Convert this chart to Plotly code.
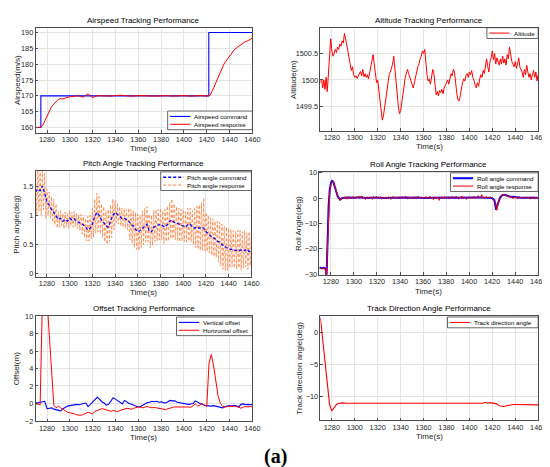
import numpy as np
import plotly.graph_objects as go

W, H = 550, 467

# ---------------- data ----------------
t_1s = np.arange(1270, 1461, 1)
t_2s = np.arange(1270, 1461, 2)
x_ticks = [1280, 1300, 1320, 1340, 1360, 1380, 1400, 1420, 1440, 1460]
alt_ticks = [1499.5, 1500, 1500.5]
alt_tick_text = ["1499.5", "1500", "1500.5"]

airspeed_cmd_t = [1270, 1274.6, 1274.6, 1421.8, 1421.8, 1460]
airspeed_cmd = [160, 160, 170, 170, 190, 190]
airspeed_resp_t = [1270, 1274, 1276, 1278, 1280, 1282, 1284, 1286, 1288, 1290,
                   1292, 1294, 1296, 1298, 1300, 1303, 1306, 1309, 1312, 1314,
                   1316, 1318, 1320, 1322, 1325, 1330, 1335, 1340, 1345, 1350,
                   1355, 1360, 1365, 1370, 1375, 1380, 1385, 1390, 1395, 1400,
                   1405, 1410, 1415, 1420, 1423, 1426, 1429, 1432, 1435, 1438,
                   1441, 1444, 1447, 1450, 1453, 1456, 1460]
airspeed_resp = [160, 160.1, 160.5, 162.0, 164.0, 165.5, 166.6, 167.4, 168.2, 168.9,
                 169.1, 169.0, 169.3, 169.6, 169.7, 169.8, 170.0, 169.9, 169.6, 170.2,
                 170.6, 170.0, 169.4, 169.8, 170.1, 170.0, 169.9, 170.1, 170.2, 170.0,
                 169.9, 170.1, 170.0, 170.1, 169.9, 170.0, 170.1, 169.9, 170.0, 170.1,
                 169.9, 170.0, 170.1, 169.9, 170.2, 172.5, 175.0, 177.6, 180.0, 181.5,
                 183.0, 184.5, 185.4, 186.2, 186.9, 187.4, 188.2]

altitude = [1499.95, 1500.02, 1499.85, 1500.0, 1499.82, 1500.05, 1499.78, 1500.1, 1500.45, 1500.78,
            1500.55, 1500.45, 1500.5, 1500.58, 1500.52, 1500.62, 1500.58, 1500.68, 1500.64, 1500.74,
            1500.7, 1500.88, 1500.78, 1500.62, 1500.55, 1500.42, 1500.3, 1500.18, 1500.25, 1500.1,
            1500.05, 1500.08, 1500.03, 1500.08, 1500.1, 1500.16, 1500.08, 1500.2, 1500.06, 1500.12,
            1500.05, 1500.1, 1500.02, 1500.12, 1500.22, 1500.35, 1500.48, 1500.3, 1500.12, 1499.95,
            1500.0, 1499.8, 1499.55, 1499.42, 1499.24, 1499.32, 1499.48, 1499.62, 1499.8, 1499.95,
            1500.1, 1500.15, 1500.22, 1500.3, 1500.45, 1500.25, 1500.05, 1499.75, 1499.5, 1499.36,
            1499.42, 1499.55, 1499.7, 1499.88, 1500.05, 1500.15, 1500.2, 1500.12, 1500.05, 1499.98,
            1499.92, 1499.85, 1499.95, 1500.08, 1500.15, 1500.25, 1500.3, 1500.4, 1500.45, 1500.55,
            1500.5, 1500.58, 1500.28, 1500.1, 1499.98, 1500.02, 1499.92, 1500.05, 1500.2, 1500.12,
            1499.85, 1499.72, 1499.78, 1499.7, 1499.8, 1499.76, 1499.82, 1499.74, 1499.85, 1499.9,
            1499.95, 1500.0, 1499.92, 1500.05, 1500.12, 1500.08, 1500.2, 1500.15, 1499.9, 1499.75,
            1499.62, 1499.6, 1499.7, 1499.85, 1499.95, 1500.02, 1499.98, 1500.08, 1500.12, 1500.05,
            1500.15, 1500.1, 1500.18, 1500.05, 1500.0, 1499.9, 1499.85, 1499.95, 1499.88, 1500.02,
            1500.1, 1500.05, 1500.18, 1500.12, 1500.3, 1500.4, 1500.25, 1500.15, 1500.35, 1500.42,
            1500.55, 1500.38, 1500.5, 1500.3, 1500.42, 1500.35, 1500.28, 1500.4, 1500.3, 1500.45,
            1500.32, 1500.4, 1500.28, 1500.48, 1500.4, 1500.62, 1500.45, 1500.35, 1500.3, 1500.25,
            1500.35, 1500.22, 1500.3, 1500.42, 1500.25, 1500.2, 1500.15, 1500.05, 1500.2, 1500.1,
            1500.28, 1500.15, 1500.05, 1500.12, 1500.0, 1500.1, 1500.18, 1500.05, 1500.15, 1499.98, 1500.1]

pitch_cmd = [1.40, 1.45, 1.42, 1.50, 1.38, 1.22, 1.18, 1.10, 1.05, 0.98,
             0.93, 0.95, 0.90, 0.93, 0.90, 0.95, 0.92, 0.94, 0.90, 0.88,
             0.86, 0.84, 0.80, 0.75, 0.78, 0.85, 0.98, 1.05, 1.00, 0.92,
             0.88, 0.82, 0.80, 0.90, 1.00, 1.05, 1.02, 0.98, 0.95, 0.95,
             0.92, 0.90, 0.85, 0.82, 0.76, 0.72, 0.74, 0.78, 0.82, 0.85,
             0.74, 0.72, 0.80, 0.82, 0.84, 0.85, 0.82, 0.80, 0.84, 0.90,
             0.92, 0.88, 0.87, 0.85, 0.84, 0.82, 0.80, 0.84, 0.85, 0.80,
             0.78, 0.80, 0.78, 0.80, 0.78, 0.72, 0.68, 0.65, 0.62, 0.60,
             0.56, 0.54, 0.50, 0.47, 0.45, 0.43, 0.42, 0.42, 0.40, 0.41,
             0.40, 0.42, 0.40, 0.42, 0.38, 0.40]
pitch_resp = [1.80, 1.02, 1.82, 1.08, 1.78, 1.00, 1.85, 1.10, 1.72, 0.95,
              1.45, 1.00, 1.40, 0.96, 1.32, 0.88, 1.28, 0.84, 1.20, 0.78,
              1.06, 0.80, 1.08, 0.82, 1.03, 0.77, 1.06, 0.80, 1.03, 0.78,
              1.08, 0.82, 1.05, 0.80, 1.07, 0.81, 1.03, 0.77, 1.01, 0.75,
              1.02, 0.68, 0.98, 0.62, 0.95, 0.56, 0.98, 0.56, 1.00, 0.60,
              1.12, 0.62, 1.28, 0.70, 1.38, 0.72, 1.32, 0.68, 1.20, 0.62,
              1.15, 0.55, 1.08, 0.50, 1.10, 0.55, 1.18, 0.62, 1.28, 0.75,
              1.25, 0.88, 1.20, 0.85, 1.15, 0.82, 1.12, 0.80, 1.12, 0.78,
              1.10, 0.75, 1.12, 0.58, 1.10, 0.52, 1.08, 0.45, 1.05, 0.42,
              1.02, 0.40, 1.00, 0.45, 1.08, 0.50, 1.12, 0.55, 1.15, 0.55,
              1.02, 0.45, 1.00, 0.48, 1.08, 0.55, 1.10, 0.56, 1.10, 0.58,
              1.12, 0.58, 1.08, 0.52, 1.10, 0.55, 1.16, 0.56, 1.22, 0.60,
              1.28, 0.60, 1.20, 0.58, 1.15, 0.56, 1.12, 0.55, 1.10, 0.56,
              1.10, 0.55, 1.06, 0.54, 1.12, 0.56, 1.12, 0.55, 1.08, 0.50,
              1.12, 0.45, 1.15, 0.42, 1.18, 0.40, 1.22, 0.40, 1.30, 0.40,
              1.05, 0.38, 1.00, 0.36, 0.96, 0.32, 0.94, 0.30, 0.90, 0.28,
              0.90, 0.20, 0.88, 0.14, 0.85, 0.08, 0.82, 0.05, 0.80, 0.06,
              0.78, 0.10, 0.76, 0.12, 0.74, 0.10, 0.72, 0.08, 0.74, 0.10,
              0.75, 0.06, 0.72, 0.10, 0.74, 0.12, 0.70, 0.08, 0.72, 0.14, 0.74]

roll_cmd_t = [1270, 1272, 1274, 1275.5, 1276.2, 1277, 1278, 1279, 1280, 1281,
              1282, 1283, 1284, 1286, 1288, 1290, 1295, 1300, 1305, 1310,
              1315, 1320, 1325, 1330, 1335, 1340, 1345, 1350, 1355, 1360,
              1365, 1370, 1375, 1380, 1385, 1390, 1395, 1400, 1405, 1410,
              1415, 1420, 1422, 1423.5, 1425, 1427, 1429, 1431, 1435, 1440,
              1445, 1450, 1455, 1460]
roll_cmd = [-27.4, -27.7, -27.5, -27.9, -31.0, -16.0, -3.0, 3.5, 6.0, 6.8,
            6.5, 5.0, 3.3, 0.6, -0.6, 0.1, 0.3, 0.2, 0.4, 0.1,
            0.2, 0.3, 0.1, 0.2, 0.3, 0.2, 0.3, 0.2, 0.3, 0.1,
            0.2, 0.2, 0.1, 0.2, 0.3, 0.2, 0.3, 0.2, 0.3, 0.3,
            0.2, 0.1, -0.8, -4.6, -2.2, 0.3, 1.2, 1.3, 0.7, 0.3,
            0.2, 0.2, 0.2, 0.2]
roll_resp = [-27.5, -27.9, -27.4, -28.1, -27.6, -28.3, -31.0, -20.0, -6.0, 2.5,
             5.5, 6.5, 6.8, 5.2, 3.5, 1.8, 0.5, -0.5, -0.8, -0.3,
             0.2, -0.3, 0.5, 0.1, -0.4, 0.6, 0.0, 0.4, -0.2, 0.7,
             0.3, -0.3, 0.5, 0.2, 0.8, -0.2, 0.5, 0.9, 0.1, 0.4,
             -0.6, 0.3, 0.6, -0.1, 0.4, 0.2, -0.5, 0.7, 0.0, 0.3,
             0.5, -0.2, 0.3, 0.6, -0.4, 0.2, 0.5, 0.0, 0.4, -0.3,
             0.6, 0.2, -0.5, 0.3, 0.7, 0.0, 0.4, -0.2, 0.5, 0.1,
             -0.3, 0.4, 0.6, -0.1, 0.3, 0.8, 0.0, -0.4, 0.5, 0.2,
             0.3, -0.2, 0.6, 0.1, -0.3, 0.4, 0.7, -0.1, 0.2, 0.5,
             -0.2, 0.4, 0.1, 0.6, -0.3, 0.3, 0.8, 0.0, 0.5, -0.6,
             0.3, 0.6, -0.1, 0.4, -0.9, 0.2, 0.5, 0.0, 0.3, 0.7,
             -0.2, 0.4, 0.1, -0.3, 0.5, 0.2, 0.6, -0.1, 0.3, 0.8,
             0.0, -0.4, 0.5, 0.2, 0.9, -0.2, 0.4, 0.1, -0.5, 0.3,
             0.6, 0.0, 0.4, -0.3, 0.7, 0.2, -0.1, 0.5, 1.0, 0.1,
             0.3, 1.4, -0.2, 0.4, 0.0, 0.6, 0.3, -0.1, 0.4, 0.5,
             0.0, -0.3, -0.9, -2.0, -4.8, -2.2, -0.5, 0.5, 1.2, 1.5,
             1.2, 1.4, 0.8, 1.0, 0.5, 0.9, 0.3, 0.6, -0.2, 0.4,
             0.1, 0.5, -0.3, 0.3, 0.6, 0.0, 0.4, -0.2, 0.3, 0.5,
             -0.1, 0.4, 0.2, -0.4, 0.3, 0.6, 0.0, -0.3, 0.4, 0.1,
             0.5]

offset_vertical = [0.10, 0.05, 0.15, 0.20, 0.25, -0.60, -0.55, -0.50, -0.65, -0.70,
                   -0.75, -0.85, -0.60, -0.40, -0.30, -0.25, -0.20, -0.15, -0.10, -0.15,
                   -0.05, 0.00, 0.05, -0.35, -0.10, 0.15, 0.45, 0.70, 0.50, 0.20,
                   0.05, -0.20, -0.10, 0.30, 0.65, 0.50, 0.30, 0.10, -0.05, 0.35,
                   0.15, 0.00, -0.10, -0.20, -0.35, -0.40, -0.35, -0.20, -0.05, 0.10,
                   0.15, 0.25, 0.20, 0.25, 0.15, 0.20, 0.10, 0.05, 0.20, 0.35,
                   0.30, 0.30, 0.15, 0.10, 0.00, -0.05, -0.05, -0.10, -0.05, 0.00,
                   0.30, 0.10, 0.00, -0.05, -0.20, -0.25, -0.30, -0.30, -0.25, -0.30,
                   -0.35, -0.40, -0.50, -0.35, -0.30, -0.25, -0.30, -0.20, -0.25, -0.40,
                   -0.10, -0.05, -0.15, -0.10, -0.15, -0.10]
offset_horizontal = [-0.10, -0.05, -0.15, 12.0, 12.0, 12.0, 7.8, 3.3, -0.20, -0.50,
                     -0.30, -0.50, -0.70, -0.90, -1.00, -1.05, -1.10, -1.20, -1.30, -1.35,
                     -1.35, -1.25, -1.15, -1.00, -1.10, -1.20, -0.90, -0.80, -0.70, -0.60,
                     -0.65, -0.75, -0.85, -0.90, -0.80, -0.85, -0.95, -0.80, -0.70, -0.60,
                     -0.55, -0.60, -0.65, -0.55, -0.45, -0.40, -0.45, -0.50, -0.40, -0.35,
                     -0.45, -0.50, -0.45, -0.50, -0.55, -0.60, -0.65, -0.70, -0.60, -0.50,
                     -0.45, -0.40, -0.40, -0.35, -0.40, -0.35, -0.35, -0.40, -0.45, -0.20,
                     -0.05, -0.30, -0.15, -0.05, -0.20, -0.35, 4.60, 5.60, 4.30, 2.40,
                     0.80, 0.00, -0.35, -0.40, -0.35, -0.30, -0.35, -0.30, -0.35, -0.40,
                     -0.55, -0.40, -0.35, -0.40, -0.35, -0.40]

track_angle = [2.30, -1.05, -4.40, -7.75, -11.20, -12.20, -11.70, -11.20, -11.00, -10.95,
               -10.95, -11.00, -11.00, -10.95, -11.00, -11.00, -10.95, -11.00, -11.00, -10.98,
               -11.00, -11.00, -10.95, -11.00, -11.00, -11.00, -10.98, -11.00, -11.00, -11.00,
               -11.00, -10.98, -11.00, -11.00, -11.00, -10.95, -11.00, -11.00, -10.95, -10.90,
               -10.95, -11.00, -11.00, -10.95, -10.98, -11.00, -10.95, -11.00, -11.00, -11.00,
               -10.98, -11.00, -11.00, -10.95, -11.00, -11.00, -11.00, -10.95, -11.00, -10.90,
               -11.00, -11.00, -10.98, -11.00, -11.00, -11.00, -10.95, -11.00, -11.00, -11.00,
               -10.95, -11.00, -10.85, -11.00, -10.90, -11.00, -11.00, -11.10, -11.40, -11.50,
               -11.50, -11.40, -11.30, -11.25, -11.20, -11.20, -11.20, -11.22, -11.20, -11.22,
               -11.22, -11.25, -11.22, -11.25, -11.25, -11.25]

# ---------------- style ----------------
FONT = "Liberation Sans, Arial, sans-serif"
BLUE = "#0000ff"
RED = "#ff0000"
ORANGE = "#ff8040"
TICK_FS = 7.3
LAB_FS = 8
LEG_FS = 6.2

# panel geometry in pixels (left, right, top, bottom)
panels = [
    dict(box=(28, 248, 16, 123), yr=[158.4, 191.5], dt=5, t0=160, title="Airspeed Tracking Performance",
         ylab="Airspeed(m/s)", ylx=9),
    dict(box=(317, 538, 16, 121), yr=[1499.04, 1500.99], dt=0.5, t0=1499.5, title="Altitude Tracking Performance",
         ylab="Altitude(m)", ylx=289, tv=alt_ticks, tt=alt_tick_text),
    dict(box=(28, 247, 162, 270), yr=[-0.05, 1.76], dt=0.5, t0=0, title="Pitch Angle Tracking Performance",
         ylab="Pitch angle(deg)", ylx=9),
    dict(box=(316, 538, 163, 268), yr=[-30.3, 10.4], dt=10, t0=-30, title="Roll Angle Tracking Performance",
         ylab="Roll Angle(deg)", ylx=295),
    dict(box=(28, 248, 310, 417), yr=[-2, 10], dt=2, t0=-2, title="Offset Tracking Performance",
         ylab="Offset(m)", ylx=9),
    dict(box=(317, 538, 310, 416), yr=[-13.6, 2.55], dt=5, t0=-10, title="Track Direction Angle Performance",
         ylab="Track direction angle(deg)", ylx=295),
]


def px(x):
    return x / W


def py(y):
    return 1 - y / H


fig = go.Figure()


def add(i, x, y, color, width=1.0, dash="solid"):
    sfx = "" if i == 1 else str(i)
    fig.add_trace(go.Scatter(x=x, y=y, mode="lines", showlegend=False,
                             line=dict(color=color, width=width, dash=dash),
                             xaxis="x" + sfx, yaxis="y" + sfx, hoverinfo="skip"))


add(1, airspeed_cmd_t, airspeed_cmd, BLUE, 1.1)
add(1, airspeed_resp_t, airspeed_resp, RED, 1.0)
add(2, t_1s, altitude, RED, 1.0)
add(3, t_1s, pitch_resp, ORANGE, 0.8, "3px,2px")
add(3, t_2s, pitch_cmd, BLUE, 1.3, "3px,2px")
add(4, roll_cmd_t, roll_cmd, BLUE, 2.0)
add(4, t_1s, roll_resp, RED, 1.0)
add(5, t_2s, offset_vertical, BLUE, 1.1)
add(5, t_2s, offset_horizontal, RED, 1.0)
add(6, t_2s, track_angle, RED, 1.1)

layout = dict(width=W, height=H, margin=dict(l=0, r=0, t=0, b=0),
              paper_bgcolor="white", plot_bgcolor="white",
              font=dict(family=FONT, size=TICK_FS, color="#262626"),
              showlegend=False)
annotations = []
shapes = []

for i, p in enumerate(panels, start=1):
    sfx = "" if i == 1 else str(i)
    l, r, t, b = p["box"]
    common = dict(showline=True, mirror=True, linecolor="#4d4d4d", linewidth=0.8,
                  showgrid=True, gridcolor="#e4e4e4", gridwidth=0.7,
                  ticks="inside", ticklen=2.5, tickwidth=0.7, tickcolor="#4d4d4d",
                  tickfont=dict(size=TICK_FS, color="#262626", family=FONT),
                  zeroline=False, fixedrange=True)
    layout["xaxis" + sfx] = dict(domain=[px(l), px(r)], range=[1270, 1460], tickvals=x_ticks,
                                 anchor="y" + sfx, **common)
    yax = dict(domain=[py(b), py(t)], range=p["yr"], anchor="x" + sfx, **common)
    if "tv" in p:
        yax.update(tickvals=p["tv"], ticktext=p["tt"])
    else:
        yax.update(tick0=p["t0"], dtick=p["dt"])
    layout["yaxis" + sfx] = yax
    # title
    annotations.append(dict(text=p["title"], x=px((l + r) / 2), y=py(t - 1), xref="paper", yref="paper",
                            xanchor="center", yanchor="bottom", showarrow=False,
                            font=dict(size=LAB_FS, color="#000000", family=FONT)))
    # x label
    annotations.append(dict(text="Time(s)", x=px((l + r) / 2), y=py(b + 16.5), xref="paper", yref="paper",
                            xanchor="center", yanchor="middle", showarrow=False,
                            font=dict(size=LAB_FS, color="#262626", family=FONT)))
    # y label
    annotations.append(dict(text=p["ylab"], x=px(p["ylx"]), y=py((t + b) / 2), xref="paper", yref="paper",
                            xanchor="center", yanchor="middle", showarrow=False, textangle=-90,
                            font=dict(size=LAB_FS, color="#262626", family=FONT)))


def add_legend(box, rows):
    x0, y0, x1, y1 = box
    shapes.append(dict(type="rect", xref="paper", yref="paper", x0=px(x0), x1=px(x1), y0=py(y0), y1=py(y1),
                       line=dict(color="#262626", width=0.7), fillcolor="white", layer="above"))
    for k, (label, color, dash, width) in enumerate(rows):
        yc = y0 + 5.5 + 8 * k
        shapes.append(dict(type="line", xref="paper", yref="paper", x0=px(x0 + 2.5), x1=px(x0 + 23),
                           y0=py(yc), y1=py(yc), line=dict(color=color, width=width, dash=dash),
                           layer="above"))
        annotations.append(dict(text=label, x=px(x0 + 25), y=py(yc), xref="paper", yref="paper",
                                xanchor="left", yanchor="middle", showarrow=False,
                                font=dict(size=LEG_FS, color="#000000", family=FONT)))


add_legend((162, 101, 248, 120), [("Airspeed command", BLUE, "solid", 1.1),
                                   ("Airspeed response", RED, "solid", 1.0)])
add_legend((486, 16, 538, 27), [("Altitude", RED, "solid", 1.0)])
add_legend((155, 163, 247, 182), [("Pitch angle command", BLUE, "3px,2px", 1.3),
                                   ("Pitch angle response", ORANGE, "3px,2px", 1.0)])
add_legend((449, 164, 538, 183), [("Roll angle command", BLUE, "solid", 2.0),
                                   ("Roll angle response", RED, "solid", 1.0)])
add_legend((171, 311, 248, 330), [("Vertical offset", BLUE, "solid", 1.1),
                                   ("Horizontal offset", RED, "solid", 1.0)])
add_legend((446, 311, 538, 322), [("Track direction angle", RED, "solid", 1.0)])

annotations.append(dict(text="<b>(a)</b>", x=px(271), y=py(453), xref="paper", yref="paper",
                        xanchor="center", yanchor="middle", showarrow=False,
                        font=dict(size=20, color="#000000", family="Liberation Serif, Times New Roman, serif")))

layout["annotations"] = annotations
layout["shapes"] = shapes
fig.update_layout(**layout)
fig.write_html("out.html")
